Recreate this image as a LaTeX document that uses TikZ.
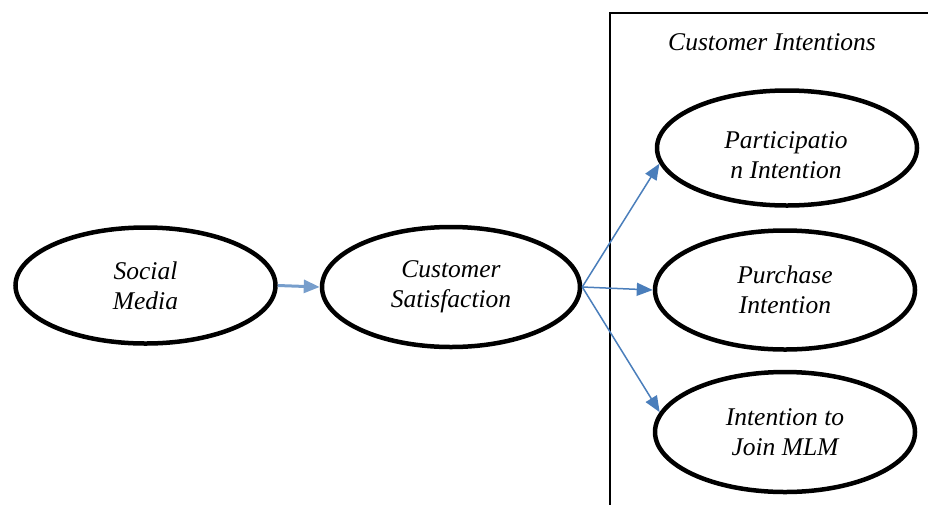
\documentclass[tikz,border=0pt]{standalone}
\usepackage{fontspec}
\setmainfont{Liberation Serif}
\usetikzlibrary{shapes.geometric,arrows.meta}
\definecolor{arrowblue}{HTML}{4A7EBB}
\begin{document}
\begin{tikzpicture}[x=1pt,y=-1pt,
  construct/.style={ellipse,draw=black,line width=4.5pt,minimum width=260pt,minimum height=118pt,
    inner sep=0pt,align=center,font=\fontsize{25.5}{30}\selectfont\itshape},
  link/.style={draw=arrowblue,line width=1.5pt,-{Triangle[length=16pt,width=13pt]}},
  boxtitle/.style={font=\fontsize{25.5}{30}\selectfont\itshape,inner sep=0pt}]
\useasboundingbox (0,0) rectangle (928,504);
\clip (0,0) rectangle (928,504);
\draw[line width=1.5pt] (940,13) -- (610,13) -- (610,520);
\node[boxtitle] (title) at (772,42) {Customer Intentions};
\node[construct,minimum height=116pt] (sm) at (145.5,285.5) {Social\\Media};
\node[construct,minimum width=258pt,minimum height=120pt] (cs) at (451,287) {Customer\\Satisfaction};
\node[construct,minimum height=115pt] (pi) at (787,148) {};
\node[inner sep=0pt,align=center,font=\fontsize{25.5}{30}\selectfont\itshape] (pitext) at (786,155) {Participatio\\n Intention};
\node[construct,minimum height=119pt] (pu) at (785,290) {Purchase\\Intention};
\node[construct,minimum height=120pt] (mlm) at (785,432) {Intention to\\Join MLM};
\draw[link,line width=3pt,draw=arrowblue!75] (sm.east) -- (cs.west);
\draw[link] (cs.east) -- (pi.187);
\draw[link] (cs.east) -- (pu.west);
\draw[link] (cs.east) -- (mlm.171);
\end{tikzpicture}
\end{document}
